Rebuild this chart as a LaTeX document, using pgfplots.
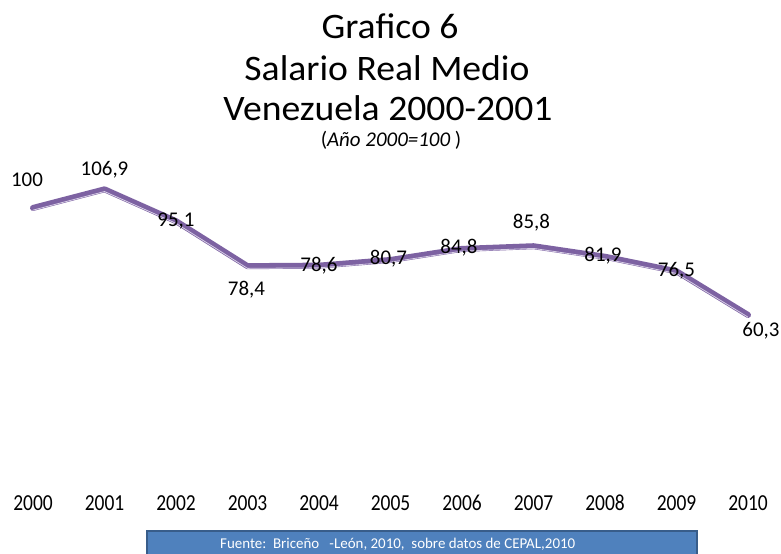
\documentclass[border=0pt]{standalone}
\usepackage{pgfplots}
\pgfplotsset{compat=1.18}
\usepackage{pgfplotstable}
\usepackage{fontspec}
\setmainfont{Carlito}
\newfontfamily\tickfont[FakeStretch=0.85]{Carlito}
\newfontfamily\titlefont[FakeStretch=1.05]{Carlito}
\definecolor{lineviolet}{RGB}{125,98,162}
\definecolor{lineglow}{RGB}{215,207,230}
\definecolor{boxblue}{RGB}{79,129,189}
\definecolor{boxedge}{RGB}{56,93,138}

\pgfplotstableread{
x y lab dx dy
2000 100 100 -6 28
2001 106.9 106,9 0 20
2002 95.1 95,1 0 0
2003 78.4 78,4 -1 -24
2004 78.6 78,6 0 0
2005 80.7 80,7 -2 1
2006 84.8 84,8 -3 1
2007 85.8 85,8 -2 24
2008 81.9 81,9 -2 1
2009 76.5 76,5 0 1
2010 60.3 60,3 13 -16
}\datatable

\begin{document}
\begin{tikzpicture}
\begin{axis}[
  at={(33bp,-477.5bp)}, anchor=south west,
  scale only axis, width=715bp, height=310bp,
  xmin=2000, xmax=2010, ymin=0, ymax=115,
  axis line style={draw=none},
  major tick length=0pt,
  ytick=\empty,
  xtick={2000,2001,2002,2003,2004,2005,2006,2007,2008,2009,2010},
  xticklabels={2000,2001,2002,2003,2004,2005,2006,2007,2008,2009,2010},
  xticklabel style={anchor=base, yshift=-33bp, font=\tickfont\fontsize{23}{26}\selectfont},
  clip=false,
]
\addplot[color=lineviolet, line width=6bp, line join=round, line cap=round,
  nodes near coords={\pgfplotspointmeta},
  point meta=explicit symbolic,
  visualization depends on={\thisrow{dx}\as\ldx},
  visualization depends on={\thisrow{dy}\as\ldy},
  nodes near coords style={anchor=center, black, xshift=\ldx bp, yshift=\ldy bp,
    font=\fontsize{21}{24}\selectfont, inner sep=0pt},
] table[x=x, y=y, meta=lab] {\datatable};
\addplot[color=lineglow, line width=0.8bp, line join=round, yshift=-2.2bp, forget plot]
  table[x=x, y=y] {\datatable};
\end{axis}

\node[anchor=base] at (390bp,-38bp) {\titlefont\fontsize{36}{40}\selectfont Grafico 6};
\node[anchor=base] at (387bp,-80bp) {\titlefont\fontsize{36}{40}\selectfont Salario Real Medio};
\node[anchor=base] at (388bp,-120bp) {\titlefont\fontsize{36}{40}\selectfont Venezuela 2000-2001};
\node[anchor=base] at (391bp,-146bp) {\fontsize{21}{23}\selectfont (\textit{Año 2000=100} )};

\draw[fill=boxblue, draw=boxedge, line width=2bp] (147bp,-531bp) rectangle (697bp,-562bp);
\node[anchor=base west, white, inner sep=0pt] at (220bp,-548bp)
  {\fontsize{15}{17}\selectfont Fuente:\ \ Briceño\ \ \ -León, 2010,\ \ sobre datos de CEPAL,2010};

\pgfresetboundingbox
\useasboundingbox (0bp,0bp) rectangle (781bp,-554bp);
\end{tikzpicture}
\end{document}
